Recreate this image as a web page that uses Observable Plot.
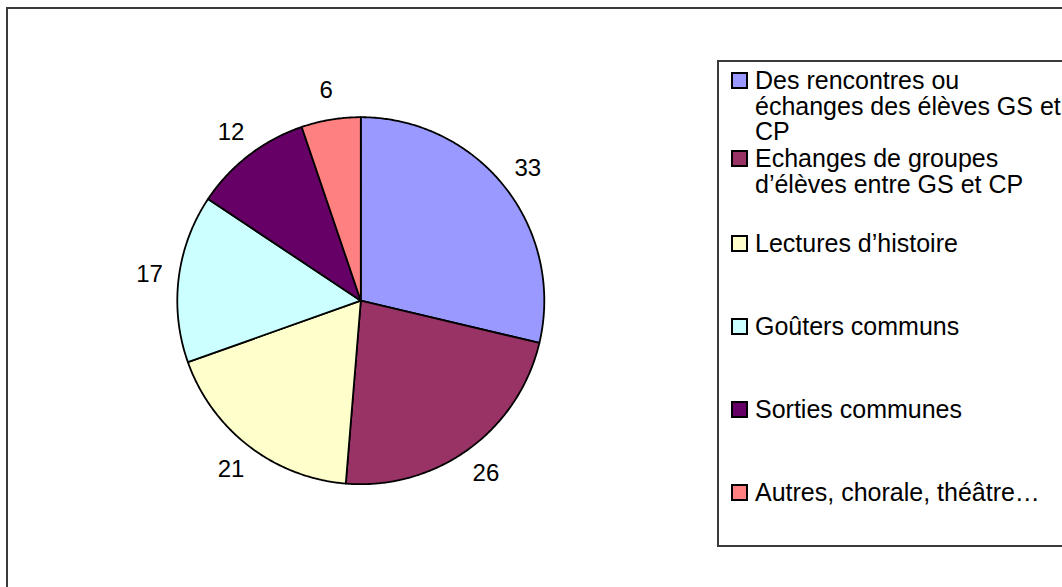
<!DOCTYPE html>
<html>
<head>
<meta charset="utf-8">
<script src="https://cdn.jsdelivr.net/npm/d3@7"></script>
<script src="https://cdn.jsdelivr.net/npm/@observablehq/plot@0.6"></script>
<style>
  html, body { margin: 0; padding: 0; background: #fff; }
  body { width: 1062px; height: 587px; overflow: hidden; position: relative;
         font-family: "Liberation Sans", Arial, sans-serif; }
  #frame { position: absolute; left: 6px; top: 7px; width: 2000px; height: 2000px;
           border-left: 2px solid #3a3a3a; border-top: 2px solid #3a3a3a; box-sizing: border-box; }
  #chart { position: absolute; left: 0; top: 0; }
  #legend { position: absolute; left: 717px; top: 60px; width: 600px; height: 487px;
            border: 2px solid #3a3a3a; box-sizing: border-box; background: #fff; }
  .sw { position: absolute; width: 17px; height: 17px; border: 2px solid #000; box-sizing: border-box; }
  .lt { position: absolute; font-size: 25px; line-height: 18px; color: #000; white-space: nowrap; }
</style>
</head>
<body>
<div id="frame"></div>
<div id="chart"></div>
<div id="legend"></div>
<script>
// ---- data ----
const categories = [
  "Des rencontres ou échanges des élèves GS et CP",
  "Echanges de groupes d’élèves entre GS et CP",
  "Lectures d’histoire",
  "Goûters communs",
  "Sorties communes",
  "Autres, chorale, théâtre…"
];
const values = [33, 26, 21, 17, 12, 6];
const colors = ["#9999FF", "#993366", "#FFFFCC", "#CCFFFF", "#660066", "#FF8080"];
// legend lines (as wrapped in the reference)
const legendLines = [
  ["Des rencontres ou", "échanges des élèves GS et", "CP"],
  ["Echanges de groupes", "d’élèves entre GS et CP"],
  ["Lectures d’histoire"],
  ["Goûters communs"],
  ["Sorties communes"],
  ["Autres, chorale, théâtre…"]
];
const legendBaselines = [87, 165, 250, 333, 416, 499];

// ---- layout ----
const cx = 360.3, cy = 300.2, R = 183.5;
const labelR = 1.16;
const lineGap = 25.5;

const rows = categories.map((c, i) => ({cat: c, value: values[i]}));
const arcs = d3.pie().sort(null).value(d => d.value)(rows);

const pts = [];
for (const a of arcs) {
  const cat = a.data.cat;
  pts.push({cat, x: 0, y: 0});
  const step = Math.PI / 360;
  const angs = d3.range(a.startAngle, a.endAngle, step).concat([a.endAngle]);
  for (const t of angs) pts.push({cat, x: Math.sin(t), y: Math.cos(t)});
  pts.push({cat, x: 0, y: 0});
}
const labels = arcs.map(a => {
  const m = (a.startAngle + a.endAngle) / 2;
  return {x: labelR * Math.sin(m), y: labelR * Math.cos(m), text: String(a.data.value)};
});

const chart = Plot.plot({
  width: 1062,
  height: 587,
  margin: 0,
  x: {domain: [-1, 1], range: [cx - R, cx + R], axis: null},
  y: {domain: [-1, 1], range: [cy + R, cy - R], axis: null},
  color: {domain: categories, range: colors},
  style: {background: "transparent", fontFamily: "'Liberation Sans', Arial, sans-serif", overflow: "visible"},
  marks: [
    Plot.line(pts, {x: "x", y: "y", z: "cat", fill: "cat", stroke: "#000", strokeWidth: 1.8,
                    curve: "linear", strokeLinejoin: "round"}),
    Plot.text(labels, {x: "x", y: "y", text: "text", fontSize: 24, fill: "#000",
                       textAnchor: "middle", lineAnchor: "middle"})
  ]
});
document.getElementById("chart").appendChild(chart);

// ---- legend ----
const leg = d3.select("#legend");
categories.forEach((c, i) => {
  const b = legendBaselines[i] - 60; // relative to legend box top
  leg.append("div").attr("class", "sw")
    .style("left", (729 - 717) + "px")
    .style("top", (b - 17) + "px")
    .style("background", colors[i]);
  legendLines[i].forEach((line, j) => {
    leg.append("div").attr("class", "lt")
      .style("left", (753 - 717) + "px")
      .style("top", (b + j * lineGap - 17.7) + "px")
      .text(line);
  });
});
</script>
</body>
</html>
